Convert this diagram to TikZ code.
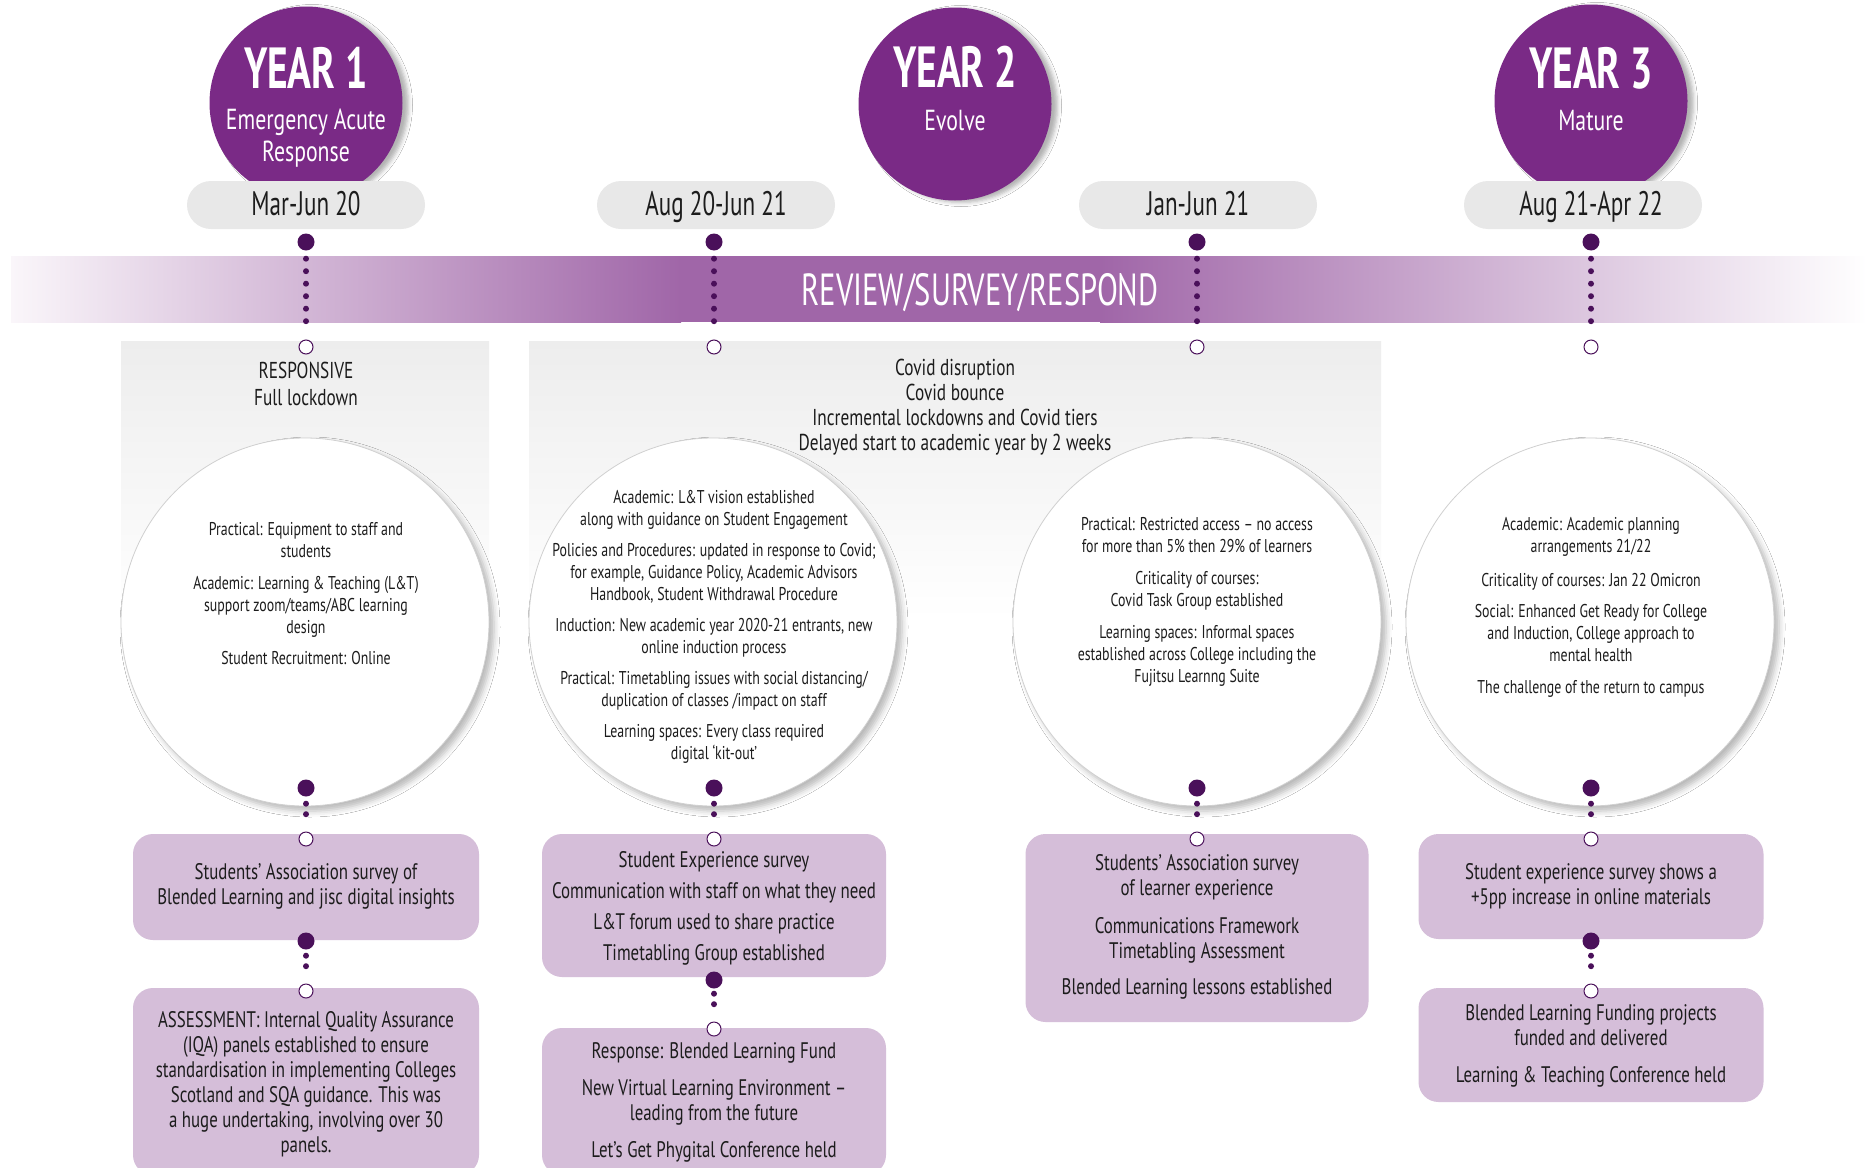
\documentclass[tikz,border=0pt]{standalone}
\usepackage{fontspec}
\setmainfont{PT Sans}[FakeStretch=0.68]
\newfontfamily\bodyfont{PT Sans}[FakeStretch=0.75,Ligatures=TeX]
\usetikzlibrary{shadows.blur}

\definecolor{yearpurple}{RGB}{122,42,134}
\definecolor{dotpurple}{RGB}{74,16,90}
\definecolor{bandpurple}{RGB}{160,102,168}
\definecolor{bandpale}{RGB}{250,246,250}
\definecolor{boxlilac}{RGB}{213,190,217}
\definecolor{pillgray}{RGB}{232,232,232}
\definecolor{panelgray}{RGB}{237,237,237}
\definecolor{inkblack}{RGB}{28,28,28}
\definecolor{rimgray}{RGB}{208,208,208}

\tikzset{
  yearcircle/.style={circle, fill=yearpurple, minimum size=193pt, inner sep=0pt,
    blur shadow={shadow xshift=6pt, shadow yshift=-2pt, shadow opacity=30, shadow blur radius=4pt}},
  pill/.style={rounded corners=24pt, fill=pillgray, minimum width=238pt, minimum height=48pt, inner sep=0pt},
  topic/.style={circle, fill=white, draw=rimgray, line width=0.8pt, minimum size=368pt, inner sep=0pt,
    blur shadow={shadow xshift=5pt, shadow yshift=-5pt, shadow opacity=28, shadow blur radius=6pt}},
  card/.style={rounded corners=20pt, fill=boxlilac, inner sep=0pt},
  fdot/.style={circle, fill=dotpurple, minimum size=17pt, inner sep=0pt},
  odot/.style={circle, fill=white, draw=dotpurple, line width=1pt, minimum size=14pt, inner sep=0pt},
  dotline/.style={draw=dotpurple, line width=6pt, line cap=round, dash pattern=on 0pt off #1},
  yeartitle/.style={text=white, anchor=base, inner sep=0pt, font=\fontsize{58}{60}\selectfont\bfseries},
  yearsub/.style={text=white, anchor=north, align=center, inner sep=0pt, font=\bodyfont\fontsize{29}{32}\selectfont},
  pilltext/.style={text=inkblack, anchor=base, inner sep=0pt, font=\fontsize{34}{36}\selectfont},
  bandtext/.style={text=white, anchor=base, inner sep=0pt, font=\fontsize{45}{48}\selectfont},
  paneltext/.style={text=inkblack, anchor=north, align=center, inner sep=0pt, font=\bodyfont\fontsize{23}{#1}\selectfont},
  topictext/.style={text=inkblack, anchor=north, align=center, inner sep=0pt, font=\bodyfont\fontsize{18.5}{22}\selectfont},
  cardtext/.style={text=inkblack, anchor=north, align=center, inner sep=0pt, font=\bodyfont\fontsize{22.5}{25}\selectfont},
}

\begin{document}
\begin{tikzpicture}[x=1pt,y=-1pt]
\useasboundingbox (0,0) rectangle (1867,1167);
\clip (0,0) rectangle (1867,1167);
\fill[white] (0,0) rectangle (1867,1167);

% grey backdrop panels fading downwards
\shade[top color=panelgray, bottom color=white] (121,341) rectangle (489,620);
\shade[top color=panelgray, bottom color=white] (529,341) rectangle (1381,620);

% review band
\shade[left color=bandpale, right color=bandpurple] (11,256) rectangle (681,322);
\fill[bandpurple] (680,256) rectangle (1101,322);
\shade[left color=bandpurple, right color=white] (1100,256) rectangle (1867,322);
\node[bandtext] (band) at (980,305) {REVIEW/SURVEY/RESPOND};

% year headers
\node[yearcircle] (y1) at (306,103) {};
\node[yearcircle] (y2) at (955,104) {};
\node[yearcircle] (y3) at (1591,101) {};
\node[yeartitle] (y1t) at (306,88) {YEAR 1};
\node[yeartitle] (y2t) at (955,87) {YEAR 2};
\node[yeartitle] (y3t) at (1591,88) {YEAR 3};
\node[yearsub] (y1s) at (306,106.6) {\strut Emergency Acute\\Response};
\node[yearsub] (y2s) at (955,107.6) {\strut Evolve};
\node[yearsub] (y3s) at (1591,107.6) {\strut Mature};

% date pills
\node[pill] (p1) at (306,205) {};
\node[pill] (p2) at (716,205) {};
\node[pill] (p3) at (1198,205) {};
\node[pill] (p4) at (1583,205) {};
\node[pilltext] (p1t) at (306,215) {Mar-Jun 20};
\node[pilltext] (p2t) at (716,215) {Aug 20-Jun 21};
\node[pilltext] (p3t) at (1198,215) {Jan-Jun 21};
\node[pilltext] (p4t) at (1591,215) {Aug 21-Apr 22};

% panel headings
\node[paneltext=27] (h1) at (306,359) {\strut RESPONSIVE\\Full lockdown};
\node[paneltext=25] (h2) at (955,357.5) {\strut Covid disruption\\Covid bounce\\Incremental lockdowns and Covid tiers\\Delayed start to academic year by 2 weeks};

% topic circles
\node[topic] (c1) at (305,622) {};
\node[topic] (c2) at (713,622) {};
\node[topic] (c3) at (1197,622) {};
\node[topic] (c4) at (1590,622) {};

\node[topictext] (c1t) at (306,519.6) {\strut Practical: Equipment to staff and\\students\\[10pt]Academic: Learning \& Teaching (L\&T)\\support zoom/teams/ABC learning\\design\\[9pt]Student Recruitment: Online};
\node[topictext] (c2t) at (714,487.6) {\strut Academic: L\&T vision established\\along with guidance on Student Engagement\\[9pt]Policies and Procedures: updated in response to Covid;\\for example, Guidance Policy, Academic Advisors\\Handbook, Student Withdrawal Procedure\\[9pt]Induction: New academic year 2020-21 entrants, new\\online induction process\\[9pt]Practical: Timetabling issues with social distancing/\\duplication of classes /impact on staff\\[9pt]Learning spaces: Every class required\\digital ‘kit-out’};
\node[topictext] (c3t) at (1197,514.6) {\strut Practical: Restricted access – no access\\for more than 5\% then 29\% of learners\\[10pt]Criticality of courses:\\Covid Task Group established\\[10pt]Learning spaces: Informal spaces\\established across College including the\\Fujitsu Learnng Suite};
\node[topictext] (c4t) at (1591,514.6) {\strut Academic: Academic planning\\arrangements 21/22\\[12pt]Criticality of courses: Jan 22 Omicron\\[9pt]Social: Enhanced Get Ready for College\\and Induction, College approach to\\mental health\\[10pt]The challenge of the return to campus};

% outcome cards
\node[card, minimum width=346pt, minimum height=106pt] (b11) at (306,887) {};
\node[card, minimum width=346pt, minimum height=187pt] (b12) at (306,1081.5) {};
\node[card, minimum width=344pt, minimum height=143pt] (b21) at (714,905.5) {};
\node[card, minimum width=344pt, minimum height=147pt] (b22) at (714,1101.5) {};
\node[card, minimum width=343pt, minimum height=188pt] (b31) at (1197,928) {};
\node[card, minimum width=345pt, minimum height=105pt] (b41) at (1591,886.5) {};
\node[card, minimum width=345pt, minimum height=114pt] (b42) at (1591,1045) {};

\node[cardtext] (b11t) at (306,861.5) {\strut Students’ Association survey of\\Blended Learning and jisc digital insights};
\node[cardtext] (b12t) at (306,1009.5) {\strut ASSESSMENT: Internal Quality Assurance\\(IQA) panels established to ensure\\standardisation in implementing Colleges\\Scotland and SQA guidance. This was\\a huge undertaking, involving over 30\\panels.};
\node[cardtext] (b21t) at (714,849.5) {\strut Student Experience survey\\[6pt]Communication with staff on what they need\\[6pt]L\&T forum used to share practice\\[6pt]Timetabling Group established};
\node[cardtext] (b22t) at (714,1040.5) {\strut Response: Blended Learning Fund\\[12pt]New Virtual Learning Environment –\\leading from the future\\[12pt]Let’s Get Phygital Conference held};
\node[cardtext] (b31t) at (1197,852.5) {\strut Students’ Association survey\\of learner experience\\[13pt]Communications Framework\\Timetabling Assessment\\[11pt]Blended Learning lessons established};
\node[cardtext] (b41t) at (1591,861.5) {\strut Student experience survey shows a\\+5pp increase in online materials};
\node[cardtext] (b42t) at (1591,1002.5) {\strut Blended Learning Funding projects\\funded and delivered\\[12pt]Learning \& Teaching Conference held};

% timeline markers: filled dot above the band, open dot on the panel edge
\foreach \n/\x in {1/306,2/714,3/1197,4/1591}{
  \node[fdot] (t\n) at (\x,242) {};
  \node[odot] (u\n) at (\x,347) {};
  \draw[dotline=12.5pt] ([yshift=-8pt]t\n.south) -- ([yshift=7pt]u\n.north);
  \node[fdot] (m\n) at (\x,788) {};
  \node[odot] (k\n) at (\x,839) {};
  \draw[dotline=10.5pt] ([yshift=-7pt]m\n.south) -- ([yshift=8pt]k\n.north);
}

% links between stacked cards
\node[fdot] (d1) at (306,941) {};
\node[odot] (e1) at (306,991) {};
\draw[dotline=10.5pt] ([yshift=-6pt]d1.south) -- ([yshift=8pt]e1.north);
\node[fdot] (d2) at (714,980) {};
\node[odot] (e2) at (714,1029) {};
\draw[dotline=10.5pt] ([yshift=-5pt]d2.south) -- ([yshift=7pt]e2.north);
\node[fdot] (d4) at (1591,941) {};
\node[odot] (e4) at (1591,991) {};
\draw[dotline=10.5pt] ([yshift=-6pt]d4.south) -- ([yshift=8pt]e4.north);
\end{tikzpicture}
\end{document}
